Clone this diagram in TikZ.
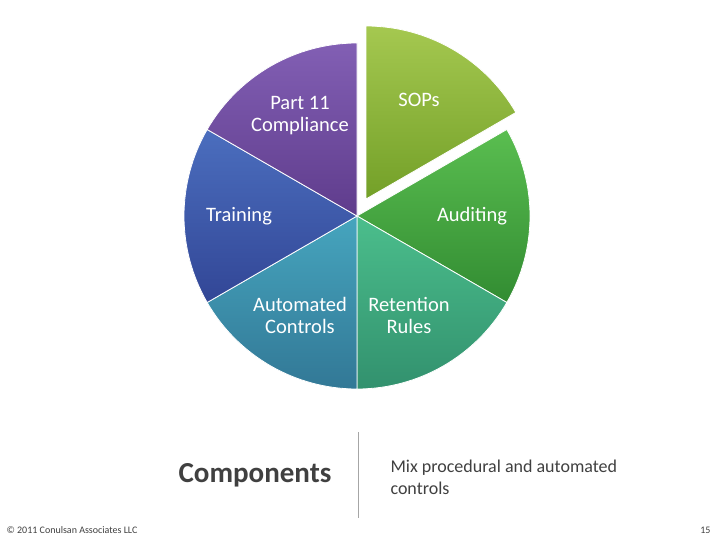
\documentclass[tikz,border=0pt]{standalone}
\usepackage{fontspec}
\setmainfont{Carlito}
\begin{document}
\begin{tikzpicture}[x=1pt,y=-1pt,
  lbl/.style={text=white,font=\fontsize{20.5}{22}\selectfont,align=center},
  slice/.style={draw=white,line width=0.8pt}]
\useasboundingbox (0,0) rectangle (720,540);
\fill[white] (0,0) rectangle (720,540);
\coordinate (c) at (357,216);
\def\R{173}
\path[slice,top color={rgb,255:red,90;green,190;blue,80},bottom color={rgb,255:red,50;green,140;blue,50}]
  (c) -- ++(-30:\R) arc[start angle=-30,end angle=30,radius=\R] -- cycle;
\path[slice,top color={rgb,255:red,75;green,190;blue,140},bottom color={rgb,255:red,50;green,145;blue,110}]
  (c) -- ++(30:\R) arc[start angle=30,end angle=90,radius=\R] -- cycle;
\path[slice,top color={rgb,255:red,70;green,165;blue,190},bottom color={rgb,255:red,50;green,120;blue,150}]
  (c) -- ++(90:\R) arc[start angle=90,end angle=150,radius=\R] -- cycle;
\path[slice,top color={rgb,255:red,75;green,110;blue,190},bottom color={rgb,255:red,50;green,70;blue,150}]
  (c) -- ++(150:\R) arc[start angle=150,end angle=210,radius=\R] -- cycle;
\path[slice,top color={rgb,255:red,130;green,95;blue,180},bottom color={rgb,255:red,95;green,60;blue,140}]
  (c) -- ++(-150:\R) arc[start angle=-150,end angle=-90,radius=\R] -- cycle;
\coordinate (c2) at (366,199);
\path[slice,top color={rgb,255:red,165;green,200;blue,80},bottom color={rgb,255:red,115;green,160;blue,40}]
  (c2) -- ++(-90:\R) arc[start angle=-90,end angle=-30,radius=\R] -- cycle;
% labels
\node[lbl] (sops) at (419,100) {SOPs};
\node[lbl] (aud) at (472,216) {Auditing};
\node[lbl] (ret) at (409,315) {Retention\\Rules};
\node[lbl] (aut) at (300,315) {Automated\\Controls};
\node[lbl] (tra) at (239,216) {Training};
\node[lbl] (p11) at (300,116) {Part 11\\Compliance};
% bottom
\draw[gray!70,line width=1pt] (358,432) -- (358,518);
\node[text=black!75,font=\fontsize{29}{30}\selectfont\bfseries] (comp) at (255,475) {Components};
\node[text=black!75,font=\fontsize{18}{22}\selectfont,align=left,anchor=north west] (mix) at (387,456) {Mix procedural and automated\\controls};
\node[text=black!75,font=\fontsize{10}{11}\selectfont,anchor=west] (foot) at (3,530) {\textcopyright{} 2011 Conulsan Associates LLC};
\node[text=black!75,font=\fontsize{10}{11}\selectfont,anchor=east] (pg) at (714,530) {15};
\end{tikzpicture}
\end{document}
